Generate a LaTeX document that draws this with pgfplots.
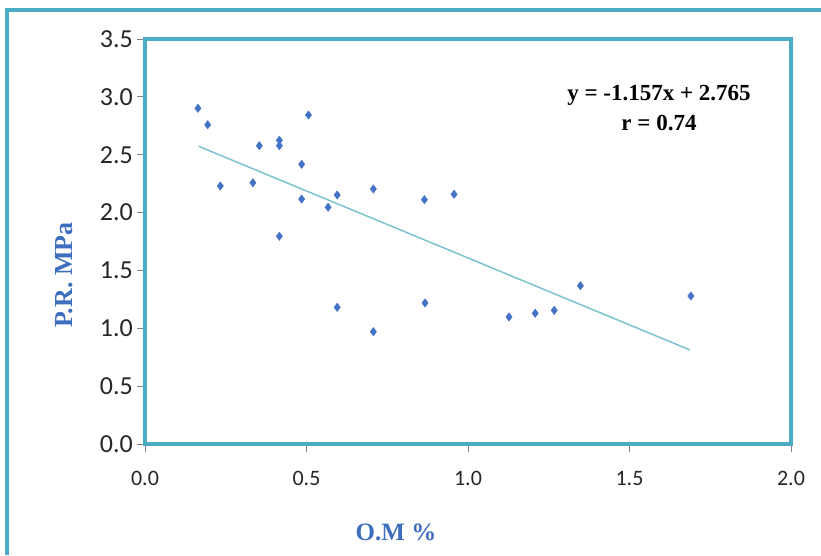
\documentclass[border=0pt]{standalone}
\usepackage{fontspec}
\setmainfont{Liberation Serif}
\newfontfamily\calib{Carlito}
\usepackage{pgfplots}
\pgfplotsset{compat=1.18}
\definecolor{framecol}{HTML}{4BACC6}
\definecolor{ptcol}{HTML}{4472C4}
\definecolor{trendcol}{HTML}{7CC3CD}
\definecolor{labcol}{HTML}{3E6FBF}
\definecolor{tickcol}{HTML}{262626}
\begin{document}
\begin{tikzpicture}[x=1pt,y=1pt]
\useasboundingbox (0,0) rectangle (821,555);
\draw[framecol,line width=4pt] (7,0) -- (7,544.5) -- (821,544.5);
\begin{axis}[at={(145pt,111pt)},anchor=south west,scale only axis,width=646pt,height=405pt,
  xmin=0,xmax=2,ymin=0,ymax=3.5,
  xtick={0,0.5,1,1.5,2},ytick={0,0.5,1,1.5,2,2.5,3,3.5},
  xtick pos=bottom,ytick pos=left,tick align=outside,major tick length=8pt,
  axis line style={framecol,line width=3.5pt},tick style={gray,line width=1pt},
  /pgf/number format/.cd,fixed,fixed zerofill,precision=1,assume math mode=true,/pgfplots/.cd,
  xticklabel style={font=\calib\fontsize{22}{24}\selectfont,text=tickcol,yshift=-16pt},
  yticklabel style={font=\calib\fontsize{26}{28}\selectfont,text=tickcol,inner sep=1pt,xshift=-3pt}]
\addplot[trendcol,line width=1.5pt] coordinates {(0.166,2.573) (1.687,0.813)};
\addplot[only marks,mark=diamond*,mark size=4.2pt,color=ptcol] coordinates {
(0.164,2.901) (0.194,2.759) (0.233,2.230) (0.334,2.258) (0.354,2.578) (0.416,2.625)
(0.416,2.578) (0.416,1.795) (0.506,2.843) (0.485,2.417) (0.485,2.117) (0.567,2.046)
(0.595,2.152) (0.707,2.204) (0.595,1.181) (0.707,0.971) (0.865,2.111) (0.957,2.158)
(0.867,1.219) (1.127,1.098) (1.208,1.130) (1.267,1.155) (1.348,1.368) (1.690,1.279)};
\end{axis}
\node[font=\bfseries\fontsize{23}{30}\selectfont,align=center] at (659,447) {y = -1.157x + 2.765\\r = 0.74};
\node[font=\bfseries\fontsize{26}{30}\selectfont,text=labcol,rotate=90] at (64,280) {P.R. MPa};
\node[font=\bfseries\fontsize{25}{30}\selectfont,text=labcol] at (396,23) {O.M \%};
\end{tikzpicture}
\end{document}
